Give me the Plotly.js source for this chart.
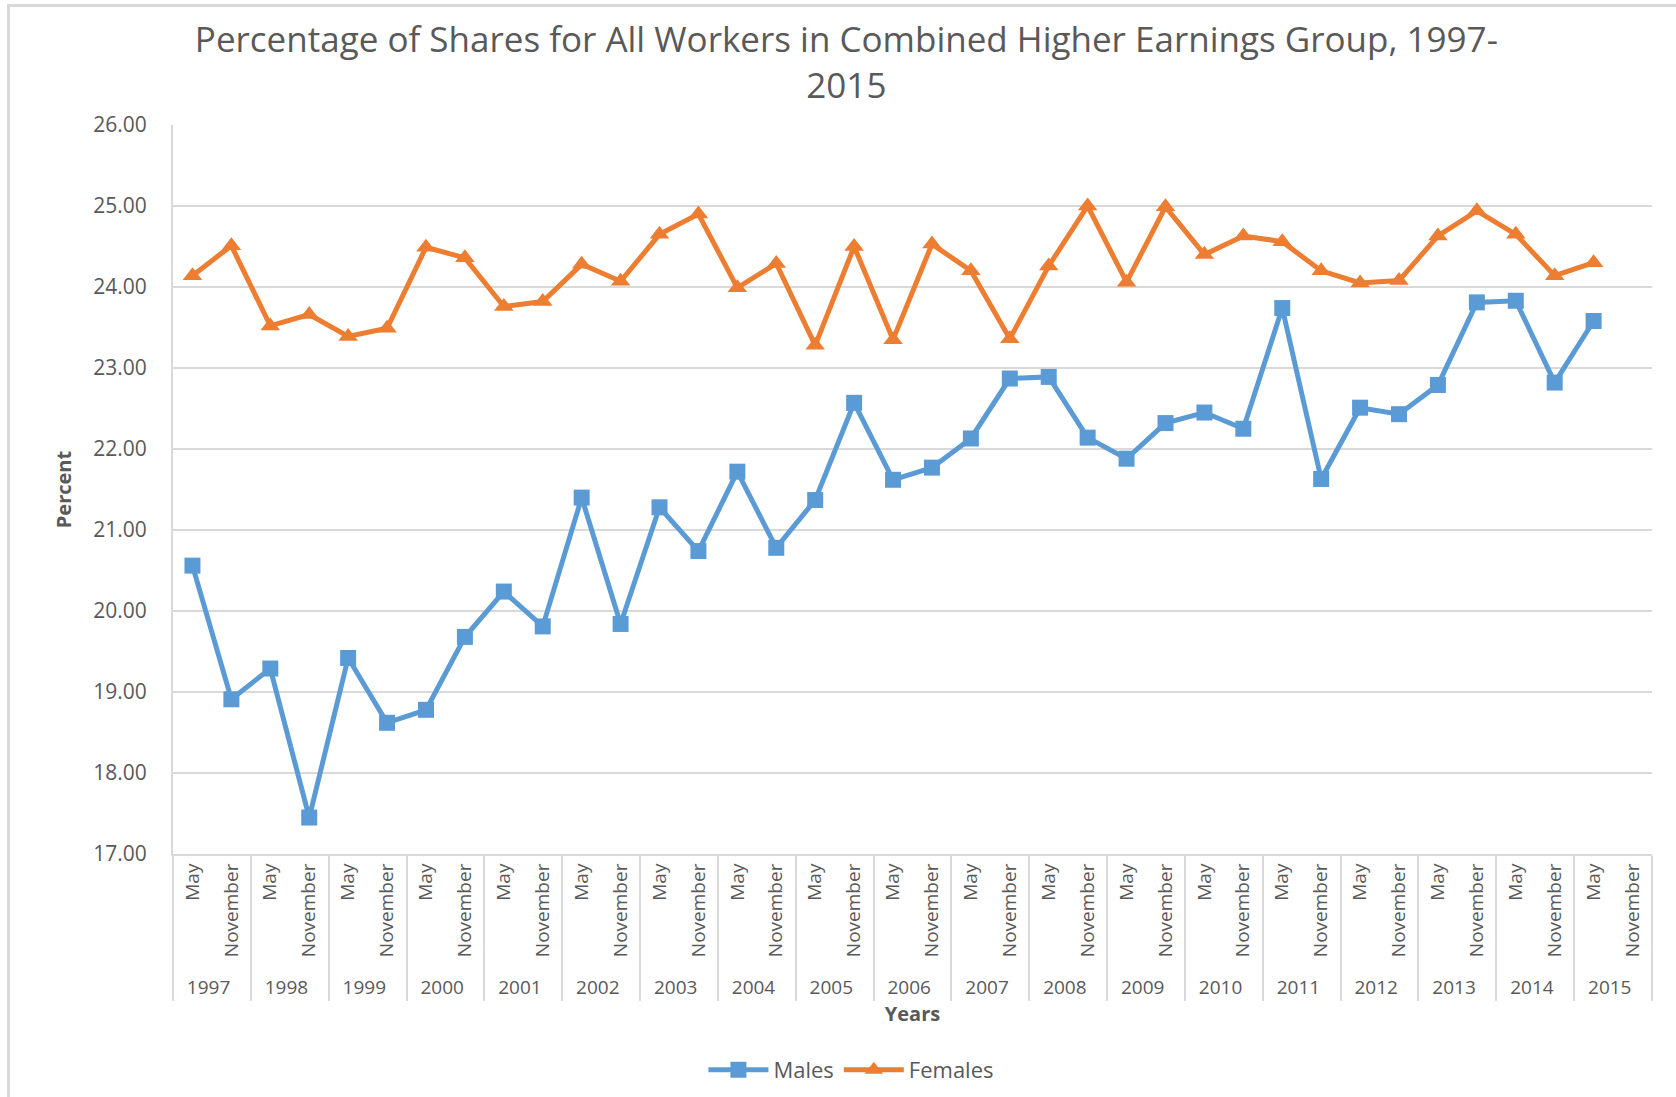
<!DOCTYPE html>
<html>
<head>
<meta charset="utf-8">
<script src="https://cdn.plot.ly/plotly-3.0.1.min.js"></script>
<style>
  html, body { margin: 0; padding: 0; background: #ffffff; }
  #wrap { position: relative; width: 1676px; height: 1097px; }
  #frame { position: absolute; left: 7px; top: 4px; width: 1669px; height: 1093px; border-left: 3px solid #D9D9D9; border-top: 3px solid #D9D9D9; box-sizing: border-box; pointer-events: none; }
  #chart { position: absolute; left: 0; top: 0; width: 1676px; height: 1097px; }
</style>
</head>
<body>
<div id="wrap">
  <div id="chart"></div>
  <div id="frame"></div>
</div>
<script>
// ---- data ----
const years = ['1997','1998','1999','2000','2001','2002','2003','2004','2005','2006',
               '2007','2008','2009','2010','2011','2012','2013','2014','2015'];
const months = ['May', 'November'];

// values in order: 1997 May, 1997 November, 1998 May, ... 2015 May, 2015 November
const males = [
  20.56, 18.91, 19.29, 17.45, 19.42, 18.62, 18.78, 19.68, 20.24, 19.81,
  21.40, 19.84, 21.28, 20.74, 21.72, 20.78, 21.37, 22.57, 21.62, 21.77,
  22.13, 22.87, 22.89, 22.14, 21.88, 22.32, 22.45, 22.25, 23.74, 21.63,
  22.51, 22.43, 22.79, 23.81, 23.83, 22.82, 23.58, null
];
const females = [
  24.14, 24.51, 23.52, 23.66, 23.39, 23.49, 24.49, 24.36, 23.76, 23.82,
  24.28, 24.07, 24.65, 24.90, 23.99, 24.29, 23.28, 24.50, 23.35, 24.53,
  24.20, 23.36, 24.26, 25.00, 24.06, 24.99, 24.40, 24.63, 24.56, 24.20,
  24.05, 24.08, 24.63, 24.94, 24.65, 24.14, 24.30, null
];

const yTicks = [17, 18, 19, 20, 21, 22, 23, 24, 25, 26];

// build the two-level category axis
const outer = [], inner = [];
years.forEach(y => months.forEach(m => { outer.push(y); inner.push(m); }));
const nCat = outer.length;

const FONT = 'Open Sans, Noto Sans, sans-serif';
const GREY = '#595959';
const GRID = '#D9D9D9';

const traces = [
  {
    name: 'Males',
    type: 'scatter',
    mode: 'lines+markers',
    x: [outer, inner],
    y: males,
    line: { color: '#5B9BD5', width: 5 },
    marker: { symbol: 'square', size: 16, color: '#5B9BD5' }
  },
  {
    name: 'Females',
    type: 'scatter',
    mode: 'lines+markers',
    x: [outer, inner],
    y: females,
    line: { color: '#ED7D31', width: 5 },
    marker: { symbol: 'triangle-up', size: 17, color: '#ED7D31' }
  }
];

const layout = {
  width: 1676,
  height: 1097,
  paper_bgcolor: 'rgba(0,0,0,0)',
  plot_bgcolor: '#ffffff',
  margin: { l: 173, r: 24, t: 125, b: 243 },
  font: { family: FONT, color: GREY },
  title: {
    text: 'Percentage of Shares for All Workers in Combined Higher Earnings Group, 1997-<br>2015',
    font: { family: FONT, size: 35, color: GREY },
    x: 0.505, xref: 'container', xanchor: 'center',
    y: 1 - 52 / 1097, yref: 'container', yanchor: 'middle'
  },
  showlegend: true,
  legend: {
    orientation: 'h',
    xref: 'container', x: 0.508, xanchor: 'center',
    yref: 'container', y: 1 - 1070 / 1097, yanchor: 'middle',
    font: { family: FONT, size: 22, color: GREY },
    itemwidth: 60
  },
  xaxis: {
    type: 'multicategory',
    autorange: false,
    range: [-0.5, nCat - 0.5],
    tickangle: -90,
    tickfont: { family: FONT, size: 19, color: GREY },
    showgrid: false,
    showline: true,
    linecolor: GRID,
    linewidth: 2,
    showdividers: true,
    dividercolor: GRID,
    dividerwidth: 2,
    zeroline: false,
    title: { text: 'Years', font: { family: FONT, size: 20, color: GREY, weight: 'bold' }, standoff: 8 }
  },
  yaxis: {
    range: [17, 26],
    tickvals: yTicks,
    ticktext: yTicks.map(v => v.toFixed(2)),
    tickfont: { family: FONT, size: 21, color: GREY },
    ticklabelstandoff: 20,
    showgrid: true,
    gridcolor: GRID,
    gridwidth: 2,
    showline: true,
    linecolor: GRID,
    linewidth: 2,
    zeroline: false,
    title: { text: 'Percent', font: { family: FONT, size: 20, color: GREY, weight: 'bold' }, standoff: 16 }
  }
};

Plotly.newPlot('chart', traces, layout, { displayModeBar: false, staticPlot: true });
</script>
</body>
</html>
